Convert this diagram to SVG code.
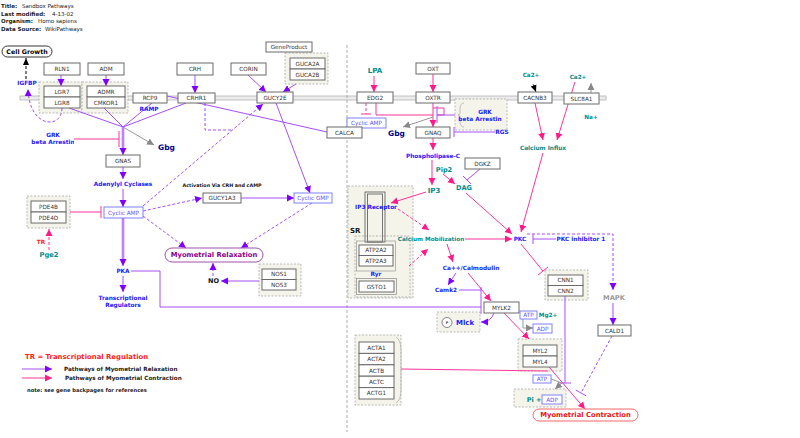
<svg xmlns="http://www.w3.org/2000/svg" width="800" height="438" viewBox="0 0 800 438">
<defs>
<style>
text{font-family:"DejaVu Sans","Liberation Sans",sans-serif}
.hd{font-size:5.5px;fill:#222}
.hb{font-weight:bold}
.box{fill:#fff;stroke:#6a6a6a;stroke-width:1}
.lbl{font-size:5.7px;fill:#333;text-anchor:middle;dominant-baseline:central}
.grp{fill:#f4f4ea;stroke:#aaa;stroke-width:0.8;stroke-dasharray:2,1.5}
.bl{font-size:5.8px;font-weight:bold;fill:#1a1aff;text-anchor:middle;dominant-baseline:central}
.tl{font-weight:bold;fill:#008b8b;text-anchor:middle;dominant-baseline:central}
.pl{stroke:#a64dff;fill:none;stroke-width:1}
.pk{stroke:#ff3399;fill:none;stroke-width:1}
.gy{stroke:#999;fill:none;stroke-width:1}
.ds{stroke-dasharray:3,2}
.thick{stroke:#d5b3ff;stroke-width:3;fill:none}
.cb{fill:#fff;stroke:#8080ff;stroke-width:1}
.ct{font-size:5.7px;fill:#5555ff;text-anchor:middle;dominant-baseline:central}
</style>
<marker id="ap" markerUnits="userSpaceOnUse" markerWidth="8" markerHeight="8" refX="7" refY="4" orient="auto"><path d="M0,0.5 L7,4 L0,7.5 z" fill="#8000ff"/></marker>
<marker id="ak" markerUnits="userSpaceOnUse" markerWidth="8" markerHeight="8" refX="7" refY="4" orient="auto"><path d="M0,0.5 L7,4 L0,7.5 z" fill="#ff1a8c"/></marker>
<marker id="ag" markerUnits="userSpaceOnUse" markerWidth="8" markerHeight="8" refX="7" refY="4" orient="auto"><path d="M0,0.5 L7,4 L0,7.5 z" fill="#888"/></marker>
<marker id="ab" markerUnits="userSpaceOnUse" markerWidth="8" markerHeight="8" refX="7" refY="4" orient="auto"><path d="M0,1 L7,4 L0,7 z" fill="#000"/></marker>
<clipPath id="cl1"><rect x="0" y="128" width="74" height="20"/></clipPath>
<clipPath id="cl2"><rect x="457" y="100" width="46" height="29"/></clipPath>
</defs>
<rect width="800" height="438" fill="#fff"/>

<!-- header -->
<g id="header">
<text class="hd" x="1" y="8"><tspan class="hb">Title:</tspan></text><text class="hd" x="22" y="8">Sandbox Pathways</text>
<text class="hd" x="1" y="15.5"><tspan class="hb">Last modified:</tspan></text><text class="hd" x="52" y="15.5">4-13-02</text>
<text class="hd" x="1" y="23"><tspan class="hb">Organism:</tspan></text><text class="hd" x="38" y="23">Homo sapiens</text>
<text class="hd" x="1" y="31"><tspan class="hb">Data Source:</tspan></text><text class="hd" x="45" y="31">WikiPathways</text>
</g>

<!-- membrane and divider -->
<g id="membrane">
<rect x="20" y="96" width="586" height="4" fill="#ececec" stroke="#b5b5b5" stroke-width="0.8"/>
<line x1="347" y1="45" x2="347" y2="432" stroke="#999" stroke-width="0.8" stroke-dasharray="3,2"/>
</g>

<!-- groups backgrounds -->
<g id="groups">
<rect id="g-lgr" class="grp" x="39" y="82" width="43" height="31"/>
<rect id="g-admr" class="grp" x="82" y="82" width="46" height="31"/>
<rect id="g-guca" class="grp" x="285" y="53" width="43" height="31"/>
<rect id="g-grk" class="grp" x="455" y="99" width="52" height="31"/>
<rect id="g-pde" class="grp" x="27" y="196" width="43" height="32"/>
<rect id="g-nos" class="grp" x="259" y="264" width="42" height="32"/>
<rect id="g-sr" class="grp" x="348" y="186" width="65" height="112"/>
<rect id="g-sr2" class="grp" x="355" y="236" width="55" height="61"/>
<rect id="g-cnn" class="grp" x="545" y="270" width="43" height="30"/>
<rect id="g-acta" class="grp" x="355" y="335" width="46" height="70"/>
<rect id="g-mlck" class="grp" x="437" y="312" width="43" height="20"/>
<rect id="g-myl" class="grp" x="518" y="339" width="44" height="32"/>
<rect id="g-pi" class="grp" x="514" y="389" width="52" height="18"/>
<path d="M464,103 Q460,103 460,109 L460,113 Q460,115 458,115 Q460,115 460,117 L460,121 Q460,127 464,127" fill="none" stroke="#aaa" stroke-width="0.7"/>
<path d="M396,337 Q401,340 401,350 L401,390 Q401,400 396,403" fill="none" stroke="#aaa" stroke-width="0.7"/>
</g>

<!-- connectors -->
<g id="connectors">
<line class="pl" x1="167" y1="96" x2="327" y2="132"/>
<line class="pl" x1="69" y1="108" x2="123" y2="127"/>
<line class="pl" x1="104" y1="108" x2="123" y2="127"/>
<line class="pl" x1="152" y1="103" x2="123" y2="127"/>
<line class="pl" x1="186" y1="103" x2="123" y2="127"/>
<line class="thick" x1="123" y1="127" x2="123" y2="152"/>
<line class="pl" x1="123" y1="127" x2="123" y2="155" marker-end="url(#ap)"/>
<line class="gy" x1="123" y1="127" x2="154" y2="145" marker-end="url(#ag)"/>
<line class="pl" x1="61" y1="75" x2="61" y2="86" marker-end="url(#ap)"/>
<line class="pl" x1="106" y1="75" x2="106" y2="86" marker-end="url(#ap)"/>
<line class="pl" x1="195" y1="75" x2="195" y2="93" marker-end="url(#ap)"/>
<line class="pl" x1="248" y1="75" x2="266" y2="92" marker-end="url(#ap)"/>
<line class="pl" x1="296" y1="84" x2="283" y2="92" marker-end="url(#ap)"/>
<path class="pl ds" d="M62,108 C62,130 29,128 28,89" marker-end="url(#ap)"/>
<line x1="26" y1="79" x2="26" y2="58" stroke="#000" stroke-width="1" stroke-dasharray="3,2" marker-end="url(#ab)"/>
<line class="pk" x1="74" y1="139" x2="119" y2="139"/>
<line class="pk" x1="119" y1="131" x2="119" y2="147"/>
<line class="pl" x1="123" y1="167" x2="123" y2="179" marker-end="url(#ap)"/>
<line class="pl" x1="123" y1="189" x2="123" y2="207" marker-end="url(#ap)"/>
<line class="thick" x1="123" y1="218" x2="123" y2="263"/>
<line class="pl" x1="123" y1="218" x2="123" y2="266" marker-end="url(#ap)"/>
<line class="pl" x1="123" y1="276" x2="123" y2="292" marker-end="url(#ap)"/>
<path class="pl" d="M131,271 H160 V307 H481"/>
<line class="pl" x1="481" y1="287" x2="481" y2="314"/>
<line class="pk" x1="70" y1="212" x2="101" y2="212"/>
<line class="pk" x1="101" y1="206" x2="101" y2="218"/>
<line class="pk ds" x1="49" y1="250" x2="49" y2="229" marker-end="url(#ak)"/>
<line class="pl ds" x1="143" y1="206" x2="263" y2="104" marker-end="url(#ap)"/>
<path class="pl ds" d="M205,103 V130 H232"/>
<line class="pl ds" x1="143" y1="211" x2="202" y2="198" marker-end="url(#ap)"/>
<line class="pl ds" x1="143" y1="216" x2="186" y2="248" marker-end="url(#ap)"/>
<line class="pl" x1="276" y1="103" x2="310" y2="193" marker-end="url(#ap)"/>
<line class="pl" x1="241" y1="198" x2="294" y2="198" marker-end="url(#ap)"/>
<line class="pl ds" x1="312" y1="203" x2="241" y2="248" marker-end="url(#ap)"/>
<line class="pl" x1="259" y1="281" x2="221" y2="281" marker-end="url(#ap)"/>
<line class="pl ds" x1="213" y1="276" x2="213" y2="263" marker-end="url(#ap)"/>
<line class="pk" x1="374" y1="76" x2="374" y2="92" marker-end="url(#ak)"/>
<line class="pk ds" x1="366" y1="103" x2="366" y2="114"/>
<line class="pk" x1="361" y1="114" x2="371" y2="114"/>
<path class="pk" d="M376,103 V115 H433"/>
<path class="pk" d="M433,108 H444 V115 H437"/>
<line class="pk" x1="433" y1="74" x2="433" y2="92" marker-end="url(#ak)"/>
<line class="pk" x1="433" y1="103" x2="433" y2="127" marker-end="url(#ak)"/>
<path class="pl" d="M455,115 H437"/>
<line class="pl" x1="437" y1="106" x2="437" y2="123"/>
<line class="gy" x1="433" y1="117" x2="403" y2="127" marker-end="url(#ag)"/>
<line class="pl" x1="495" y1="132" x2="454" y2="132"/>
<line class="pl" x1="454" y1="127" x2="454" y2="137"/>
<line class="pk" x1="433" y1="138" x2="433" y2="150" marker-end="url(#ak)"/>
<line class="pk" x1="432" y1="160" x2="432" y2="185" marker-end="url(#ak)"/>
<line class="pk" x1="443" y1="174" x2="455" y2="184" marker-end="url(#ak)"/>
<line class="pl" x1="480" y1="169" x2="467" y2="180"/>
<line class="pl" x1="463" y1="176" x2="471" y2="184"/>
<line class="pk" x1="426" y1="192" x2="391" y2="203" marker-end="url(#ak)"/>
<line class="pk ds" x1="398" y1="209" x2="429" y2="230" marker-end="url(#ak)"/>
<line class="pk ds" x1="409" y1="266" x2="428" y2="249" marker-end="url(#ak)"/>
<line class="pk" x1="465" y1="239" x2="512" y2="239" marker-end="url(#ak)"/>
<line class="pk" x1="466" y1="193" x2="512" y2="234" marker-end="url(#ak)"/>
<line class="pk" x1="543" y1="153" x2="521" y2="232" marker-end="url(#ak)"/>
<line class="pk" x1="535" y1="103" x2="543" y2="140" marker-end="url(#ak)"/>
<line class="pk" x1="575" y1="82" x2="557" y2="140" marker-end="url(#ak)"/>
<line x1="533" y1="84" x2="536" y2="92" stroke="#000" stroke-width="0.6" marker-end="url(#ab)"/>
<line class="gy" x1="591" y1="102" x2="591" y2="83" marker-end="url(#ag)"/>
<line class="pl" x1="556" y1="239" x2="533" y2="239"/>
<line class="pl" x1="533" y1="234" x2="533" y2="244"/>
<path class="pl ds" d="M527,234 H613 V290" marker-end="url(#ap)"/>
<line class="pl" x1="613" y1="303" x2="613" y2="325" marker-end="url(#ap)"/>
<line class="pl ds" x1="612" y1="336" x2="581" y2="393"/>
<line class="pl" x1="575.8" y1="390.1" x2="586.2" y2="395.9"/>
<line class="pk" x1="521" y1="244" x2="543" y2="271"/>
<line class="pk" x1="538" y1="275" x2="548" y2="267"/>
<line class="pl" x1="565" y1="296" x2="565" y2="383"/>
<line class="pl" x1="559" y1="383" x2="571" y2="383"/>
<line class="pk" x1="447" y1="244" x2="453" y2="262" marker-end="url(#ak)"/>
<line class="pl" x1="456" y1="273" x2="448" y2="285" marker-end="url(#ap)"/>
<line class="pl" x1="459" y1="290" x2="481" y2="290"/>
<line class="pk" x1="468" y1="273" x2="491" y2="301" marker-end="url(#ak)"/>
<path class="pl" d="M494,313 Q491,322 481,322" marker-end="url(#ap)"/>
<path class="gy" d="M523,319 V328 H533" marker-end="url(#ag)"/>
<line class="pk" x1="504" y1="313" x2="529" y2="339" marker-end="url(#ak)"/>
<line class="pk" x1="401" y1="369" x2="548" y2="371"/>
<line class="pk" x1="549" y1="367" x2="585" y2="409" marker-end="url(#ak)"/>
<path class="gy" d="M551,379 L562,383 L555,389" marker-end="url(#ag)"/>
<line class="pl" x1="22" y1="369" x2="52" y2="369" marker-end="url(#ap)"/>
<line class="pk" x1="22" y1="378" x2="52" y2="378" marker-end="url(#ak)"/>
</g>

<!-- nodes -->
<g id="cell-growth"><rect x="2" y="46" width="50" height="11" rx="5.5" fill="#fff" stroke="#333"/><text x="27" y="51.7" font-size="6.3" font-weight="bold" text-anchor="middle" dominant-baseline="central">Cell Growth</text></g>
<g id="igfbp"><text class="bl" x="27" y="83">IGFBP</text></g>
<g id="rln1"><rect class="box" x="44" y="63" width="36" height="12"/><text class="lbl" x="62" y="69">RLN1</text></g>
<g id="adm"><rect class="box" x="88" y="63" width="36" height="12"/><text class="lbl" x="106" y="69">ADM</text></g>
<g id="lgr7"><rect class="box" x="44" y="86" width="36" height="11"/><text class="lbl" x="62" y="91.5">LGR7</text></g>
<g id="lgr8"><rect class="box" x="44" y="97" width="36" height="11"/><text class="lbl" x="62" y="102.5">LGR8</text></g>
<g id="admr"><rect class="box" x="87" y="86" width="38" height="11"/><text class="lbl" x="106" y="91.5">ADMR</text></g>
<g id="cmkor1"><rect class="box" x="87" y="97" width="38" height="11"/><text class="lbl" x="106" y="102.5">CMKOR1</text></g>
<g id="rcp9"><rect class="box" x="133" y="93" width="34" height="10"/><text class="lbl" x="150" y="98">RCP9</text></g>
<g id="ramp"><text class="bl" x="149" y="109">RAMP</text></g>
<g id="crh"><rect class="box" x="177" y="63" width="36" height="12"/><text class="lbl" x="195" y="69">CRH</text></g>
<g id="crhr1"><rect class="box" x="178" y="93" width="37" height="10"/><text class="lbl" x="196.5" y="98">CRHR1</text></g>
<g id="corin"><rect class="box" x="231" y="63" width="35" height="12"/><text class="lbl" x="248.5" y="69">CORIN</text></g>
<g id="geneproduct"><rect class="box" x="266" y="42" width="46" height="10"/><text class="lbl" x="289" y="47">GeneProduct</text></g>
<g id="guca2a"><rect class="box" x="290" y="58" width="35" height="11"/><text class="lbl" x="307.5" y="63.5">GUCA2A</text></g>
<g id="guca2b"><rect class="box" x="290" y="69" width="35" height="11"/><text class="lbl" x="307.5" y="74.5">GUCA2B</text></g>
<g id="gucy2e"><rect class="box" x="257" y="92" width="36" height="11"/><text class="lbl" x="275" y="97.5">GUCY2E</text></g>
<g id="grk-left"><text class="bl" x="53" y="135">GRK</text><text class="bl" x="53" y="142" clip-path="url(#cl1)">beta Arrestin</text></g>
<g id="gbg-left"><text x="158" y="147" font-size="7.5" font-weight="bold" fill="#00008b" dominant-baseline="central">Gbg</text></g>
<g id="gnas"><rect class="box" x="106" y="155" width="34" height="12"/><text class="lbl" x="123" y="161">GNAS</text></g>
<g id="adenylyl"><text class="bl" x="123" y="184">Adenylyl Cyclases</text></g>
<g id="camp"><rect class="cb" x="104" y="207" width="39" height="11"/><text class="ct" x="123.5" y="212.5">Cyclic AMP</text></g>
<g id="pde4b"><rect class="box" x="31" y="201" width="35" height="11"/><text class="lbl" x="48.5" y="206.5">PDE4B</text></g>
<g id="pde4d"><rect class="box" x="31" y="212" width="35" height="11"/><text class="lbl" x="48.5" y="217.5">PDE4D</text></g>
<g id="tr"><text x="41" y="242" font-size="5.7" font-weight="bold" fill="#ff2020" text-anchor="middle" dominant-baseline="central">TR</text></g>
<g id="pge2"><text class="tl" x="49" y="255" font-size="6.7">Pge2</text></g>
<g id="pka"><text class="bl" x="123" y="271">PKA</text></g>
<g id="transreg"><text class="bl" x="123" y="298">Transcriptional</text><text class="bl" x="123" y="304.5">Regulators</text></g>
<g id="activation"><text x="222" y="185" font-size="4.8" font-weight="bold" fill="#111" text-anchor="middle" dominant-baseline="central">Activation Via CRH and cAMP</text></g>
<g id="gucy1a3"><rect class="box" x="203" y="193" width="38" height="10"/><text class="lbl" x="222" y="198">GUCY1A3</text></g>
<g id="cgmp"><rect class="cb" x="294" y="193" width="38" height="10"/><text class="ct" x="313" y="198">Cyclic GMP</text></g>
<g id="myo-relax"><rect x="165" y="248" width="98" height="14" rx="7" fill="#fff" stroke="#a050b0" stroke-width="1"/><text x="214" y="255.3" font-size="6.8" font-weight="bold" fill="#8b008b" text-anchor="middle" dominant-baseline="central">Myometrial Relaxation</text></g>
<g id="no"><text x="213.5" y="281" font-size="6.5" font-weight="bold" fill="#111" text-anchor="middle" dominant-baseline="central">NO</text></g>
<g id="nos1"><rect class="box" x="262" y="269" width="34" height="10.5"/><text class="lbl" x="279" y="274.2">NOS1</text></g>
<g id="nos3"><rect class="box" x="262" y="279.5" width="34" height="10.5"/><text class="lbl" x="279" y="284.7">NOS3</text></g>
<g id="cyclic-amp2"><rect class="cb" x="347" y="118" width="39" height="10"/><text class="ct" x="366.5" y="123">Cyclic AMP</text></g>
<g id="calca"><rect class="box" x="327" y="127" width="35" height="11"/><text class="lbl" x="344.5" y="132.5">CALCA</text></g>
<g id="gbg-right"><text x="388" y="133" font-size="7.5" font-weight="bold" fill="#00008b" dominant-baseline="central">Gbg</text></g>
<g id="lpa"><text class="tl" x="375" y="71" font-size="7">LPA</text></g>
<g id="edg2"><rect class="box" x="357" y="92" width="36" height="11"/><text class="lbl" x="375" y="97.5">EDG2</text></g>
<g id="oxt"><rect class="box" x="416" y="63" width="34" height="11"/><text class="lbl" x="433" y="68.5">OXT</text></g>
<g id="oxtr"><rect class="box" x="416" y="92" width="34" height="11"/><text class="lbl" x="433" y="97.5">OXTR</text></g>
<g id="grk-right"><text class="bl" x="485" y="112">GRK</text><text class="bl" x="480" y="119" clip-path="url(#cl2)">beta Arrestin</text></g>
<g id="gnaq"><rect class="box" x="416" y="127" width="34" height="11"/><text class="lbl" x="433" y="132.5">GNAQ</text></g>
<g id="rgs"><text class="bl" x="502" y="132">RGS</text></g>
<g id="plc"><text class="bl" x="433" y="156">Phospholipase-C</text></g>
<g id="pip2"><text class="tl" x="444" y="170" font-size="6.6">Pip2</text></g>
<g id="dgkz"><rect class="box" x="465" y="158" width="35" height="11"/><text class="lbl" x="482.5" y="163.5">DGKZ</text></g>
<g id="ip3"><text class="tl" x="434" y="191" font-size="7">IP3</text></g>
<g id="dag"><text class="tl" x="464" y="188" font-size="6.6">DAG</text></g>
<g id="cacnb3"><rect class="box" x="518" y="92" width="34" height="11"/><text class="lbl" x="535" y="97.5">CACNB3</text></g>
<g id="slc8a1"><rect class="box" x="564" y="93" width="35" height="11"/><text class="lbl" x="581.5" y="98.5">SLC8A1</text></g>
<g id="ca1"><text class="tl" x="531" y="75" font-size="5.7">Ca2+</text></g>
<g id="ca2"><text class="tl" x="578" y="77" font-size="5.7">Ca2+</text></g>
<g id="na"><text class="tl" x="591" y="117" font-size="5.7">Na+</text></g>
<g id="ca-influx"><text class="tl" x="543" y="148" font-size="5.8">Calcium Influx</text></g>
<g id="sr-label"><text x="350" y="231" font-size="7" font-weight="bold" fill="#111" dominant-baseline="central">SR</text></g>
<g id="ip3r"><rect x="365" y="192" width="20" height="50" fill="none" stroke="#555" stroke-width="0.8"/><rect x="367.5" y="194" width="15" height="48" fill="none" stroke="#555" stroke-width="0.8"/><text class="bl" x="376" y="207">IP3 Receptor</text></g>
<g id="atp2a2"><rect x="356.5" y="241" width="39" height="30" fill="none" stroke="#999" stroke-width="0.7"/><rect class="box" x="359" y="245" width="34" height="10.5"/><text class="lbl" x="376" y="250.2">ATP2A2</text></g>
<g id="atp2a3"><rect class="box" x="359" y="255.5" width="34" height="10.5"/><text class="lbl" x="376" y="260.7">ATP2A3</text></g>
<g id="ryr"><text class="bl" x="376" y="274">Ryr</text></g>
<g id="gsto1"><rect x="356.5" y="278.5" width="40" height="16" fill="none" stroke="#888" stroke-width="0.7"/><rect class="box" x="359" y="281" width="35" height="11"/><text class="lbl" x="376.5" y="286.5">GSTO1</text></g>
<g id="ca-mob"><text class="tl" x="431" y="239" font-size="5.7">Calcium Mobilization</text></g>
<g id="pkc"><text class="bl" x="520" y="239">PKC</text></g>
<g id="pkc-inh"><text class="bl" x="581" y="239">PKC inhibitor 1</text></g>
<g id="camod"><text class="bl" x="471" y="268">Ca++/Calmodulin</text></g>
<g id="camk2"><text class="bl" x="446" y="290">Camk2</text></g>
<g id="cnn1"><rect class="box" x="548" y="275" width="35" height="10.5"/><text class="lbl" x="565.5" y="280.2">CNN1</text></g>
<g id="cnn2"><rect class="box" x="548" y="285.5" width="35" height="10.5"/><text class="lbl" x="565.5" y="290.7">CNN2</text></g>
<g id="mapk"><text x="614" y="297.5" font-size="6.7" font-weight="bold" fill="#999" text-anchor="middle" dominant-baseline="central">MAPK</text></g>
<g id="cald1"><rect class="box" x="598" y="325" width="33" height="11"/><text class="lbl" x="614.5" y="330.5">CALD1</text></g>
<g id="mylk2"><rect class="box" x="484" y="302" width="35" height="11"/><text class="lbl" x="501.5" y="307.5">MYLK2</text></g>
<g id="mlck"><circle cx="447" cy="322.5" r="5" fill="#fff" stroke="#555" stroke-width="0.7"/><text x="447" y="322.7" font-size="3.5" font-weight="bold" fill="#333" text-anchor="middle" dominant-baseline="central">P</text><text x="456" y="322.5" font-size="7" font-weight="bold" fill="#1a1aff" dominant-baseline="central">Mlck</text></g>
<g id="atp1"><rect class="cb" x="520" y="311" width="17" height="8"/><text class="ct" x="528.5" y="315">ATP</text></g>
<g id="mg"><text class="tl" x="548" y="315" font-size="5.7">Mg2+</text></g>
<g id="adp1"><rect class="cb" x="533" y="324" width="19" height="9"/><text class="ct" x="542.5" y="328.5">ADP</text></g>
<g id="myl2"><rect class="box" x="523" y="345" width="34" height="11"/><text class="lbl" x="540" y="350.5">MYL2</text></g>
<g id="myl4"><rect class="box" x="523" y="356" width="34" height="11"/><text class="lbl" x="540" y="361.5">MYL4</text></g>
<g id="acta1"><rect class="box" x="359" y="342" width="35" height="11.4"/><text class="lbl" x="376.5" y="347.7">ACTA1</text></g>
<g id="acta2"><rect class="box" x="359" y="353.4" width="35" height="11.4"/><text class="lbl" x="376.5" y="359.1">ACTA2</text></g>
<g id="actb"><rect class="box" x="359" y="364.8" width="35" height="11.4"/><text class="lbl" x="376.5" y="370.5">ACTB</text></g>
<g id="actc"><rect class="box" x="359" y="376.2" width="35" height="11.4"/><text class="lbl" x="376.5" y="381.9">ACTC</text></g>
<g id="actg1"><rect class="box" x="359" y="387.6" width="35" height="11.4"/><text class="lbl" x="376.5" y="393.3">ACTG1</text></g>
<g id="atp2"><rect class="cb" x="533" y="375" width="18" height="8"/><text class="ct" x="542" y="379">ATP</text></g>
<g id="pi-adp"><text class="tl" x="534" y="399.5" font-size="6.5">Pi +</text><rect class="cb" x="542" y="395" width="20" height="9"/><text class="ct" x="552" y="399.5">ADP</text></g>
<g id="myo-contr"><rect x="533" y="409" width="105" height="12" rx="6" fill="#fff" stroke="#ff6666" stroke-width="1"/><text x="585.5" y="415.3" font-size="6.8" font-weight="bold" fill="#ee1111" text-anchor="middle" dominant-baseline="central">Myometrial Contraction</text></g>

<!-- legend -->
<g id="legend">
<text x="25" y="357" font-size="6.9" font-weight="bold" fill="#ff2020" dominant-baseline="central">TR = Transcriptional Regulation</text>
<text x="64" y="369" font-size="5.7" font-weight="bold" fill="#222" dominant-baseline="central">Pathways of Myometrial Relaxation</text>
<text x="65" y="378" font-size="5.7" font-weight="bold" fill="#222" dominant-baseline="central">Pathways of Myometrial Contraction</text>
<text x="27" y="390" font-size="5.2" font-weight="bold" fill="#222" dominant-baseline="central">note: see gene backpages for references</text>
</g>
</svg>
